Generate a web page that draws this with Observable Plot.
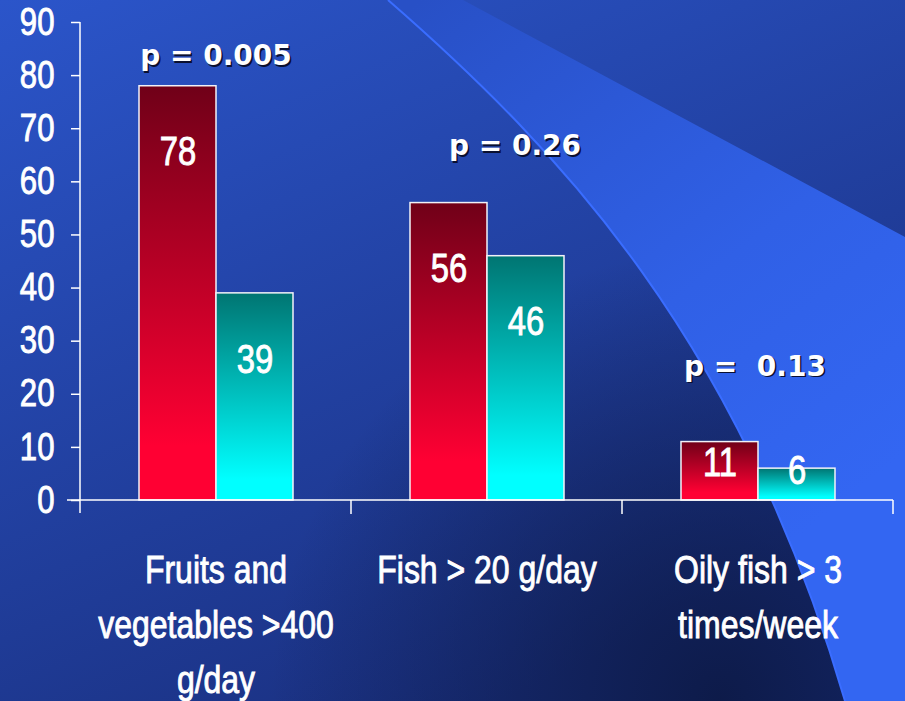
<!DOCTYPE html>
<html><head><meta charset="utf-8">
<script src="https://cdn.jsdelivr.net/npm/d3@7"></script>
<script src="https://cdn.jsdelivr.net/npm/@observablehq/plot@0.6"></script>
<style>
html,body{margin:0;padding:0;background:#1d3690;}
#wrap{position:relative;width:905px;height:701px;overflow:hidden;}
#bg{position:absolute;left:0;top:0;}
#chart{position:absolute;left:0;top:0;}
</style></head><body>
<div id="wrap">
<svg id="bg" width="905" height="701">
 <defs>
  <linearGradient id="bgGrad" x1="0" y1="0" x2="0.55" y2="1">
    <stop offset="0" stop-color="#2b55ca"/>
    <stop offset="1" stop-color="#1a3080"/>
  </linearGradient>
  <radialGradient id="dark" cx="720" cy="700" r="450" gradientUnits="userSpaceOnUse">
    <stop offset="0" stop-color="#0b1740" stop-opacity="0.85"/>
    <stop offset="1" stop-color="#0b1740" stop-opacity="0"/>
  </radialGradient>
  <linearGradient id="wedge" gradientUnits="userSpaceOnUse" x1="420" y1="0" x2="820" y2="520">
    <stop offset="0" stop-color="#2850c6"/>
    <stop offset="0.6" stop-color="#3060e6"/>
    <stop offset="1" stop-color="#3366f2"/>
  </linearGradient>
  <linearGradient id="redGrad" x1="0" y1="0" x2="0" y2="1">
    <stop offset="0" stop-color="#700018"/>
    <stop offset="0.87" stop-color="#ff0033"/>
    <stop offset="1" stop-color="#ff0033"/>
  </linearGradient>
  <linearGradient id="cyanGrad" x1="0" y1="0" x2="0" y2="1">
    <stop offset="0" stop-color="#007572"/>
    <stop offset="0.9" stop-color="#00ffff"/>
    <stop offset="1" stop-color="#00ffff"/>
  </linearGradient>
 </defs>
 <rect width="905" height="701" fill="url(#bgGrad)"/>
 <rect width="905" height="701" fill="url(#dark)"/>
 <path d="M388,0 C560,150 740,340 845,701 L905,701 L905,237 L463,0 Z" fill="url(#wedge)"/>
 <path d="M388,0 C560,150 740,340 845,701" fill="none" stroke="#3a6dff" stroke-width="2"/>
</svg>
<div id="chart"></div>
</div>
<script>
const categories = ["Fruits and\nvegetables >400\ng/day", "Fish > 20 g/day", "Oily fish > 3\ntimes/week"];
const seriesKeys = ["first", "second"];
const firstValues = [78, 56, 11];
const secondValues = [39, 46, 6];
const pLabels = ["p = 0.005", "p = 0.26", "p =  0.13"];
const pLabelAt = [83.6, 66.7, 25.2];
const pLabelShift = [0, 28, -3];
const yTicks = [0, 10, 20, 30, 40, 50, 60, 70, 80, 90];

const narrowFont = "'Liberation Sans', Arial, sans-serif";

const bars = categories.flatMap((c, i) => [
  {cat: c, s: seriesKeys[0], v: firstValues[i]},
  {cat: c, s: seriesKeys[1], v: secondValues[i]}
]);
const pData = categories.map((c, i) => ({cat: c, text: pLabels[i], y: pLabelAt[i], dx: pLabelShift[i]}));
const labelY = d => Math.max(d.v - 12.5, 0.3 * d.v + 3.8);

const plot = Plot.plot({
  width: 905, height: 701,
  marginLeft: 79, marginRight: 12, marginTop: 22, marginBottom: 201,
  style: {background: "transparent", color: "white", fontFamily: narrowFont, overflow: "visible"},
  fx: {domain: categories, padding: 0, label: null},
  x: {domain: seriesKeys, paddingInner: 0, paddingOuter: 0.74, axis: null},
  y: {domain: [0, 90], label: null},
  marks: [
    Plot.axisY({ticks: yTicks, tickSize: 9, tickPadding: 17, fontSize: 38, strokeWidth: 1.5, label: null}),
    Plot.axisFx({anchor: "bottom", tickSize: 0, tickPadding: 43, fontSize: 39, lineHeight: 1.41, label: null}),
    Plot.barY(bars, {filter: d => d.s === seriesKeys[0], fx: "cat", x: "s", y: "v", fill: "url(#redGrad)", stroke: "#f2f2f8", strokeWidth: 1.5}),
    Plot.barY(bars, {filter: d => d.s === seriesKeys[1], fx: "cat", x: "s", y: "v", fill: "url(#cyanGrad)", stroke: "#f2f2f8", strokeWidth: 1.5}),
    Plot.text(bars, {fx: "cat", x: "s", y: labelY, text: d => String(d.v), fill: "white", fontSize: 40, lineAnchor: "middle"}),
    ...pData.map(p => Plot.text([p], {fx: "cat", y: "y", text: "text", dx: p.dx + 1.5, dy: 1.5, fill: "#0a1030", fontFamily: "DejaVu Sans", fontWeight: "bold", fontSize: 28, lineAnchor: "middle"})),
    ...pData.map(p => Plot.text([p], {fx: "cat", y: "y", text: "text", dx: p.dx, fill: "white", fontFamily: "DejaVu Sans", fontWeight: "bold", fontSize: 28, lineAnchor: "middle"}))
  ]
});
document.getElementById("chart").appendChild(plot);

// narrow (and slightly embolden) the sans text, around each text's own anchor
d3.select(plot).selectAll("text").each(function() {
  if (getComputedStyle(this).fontFamily.includes("DejaVu")) return;
  const t = this.getAttribute("transform") || "";
  const x = +this.getAttribute("x") || 0, y = +this.getAttribute("y") || 0;
  this.setAttribute("transform", `${t} translate(${x},${y}) scale(0.82,1) translate(${-x},${-y})`);
  this.setAttribute("stroke", "white");
  this.setAttribute("stroke-width", "0.9");
});

// axis lines and group boundary ticks, positioned from Plot's scales
const ys = plot.scale("y"), fxs = plot.scale("fx");
const y0 = ys.apply(0), yTop = ys.apply(90);
const edges = categories.map(c => fxs.apply(c));
edges.push(edges[edges.length - 1] + fxs.bandwidth);
const g = d3.select(plot).append("g").attr("stroke", "white").attr("stroke-width", 1.5);
g.append("line").attr("x1", edges[0]).attr("x2", edges[0]).attr("y1", yTop).attr("y2", y0 + 13);
g.append("line").attr("x1", edges[0] - 13).attr("x2", edges[edges.length - 1]).attr("y1", y0).attr("y2", y0);
edges.slice(1).forEach(e => g.append("line").attr("x1", e).attr("x2", e).attr("y1", y0).attr("y2", y0 + 14));
</script>
</body></html>
